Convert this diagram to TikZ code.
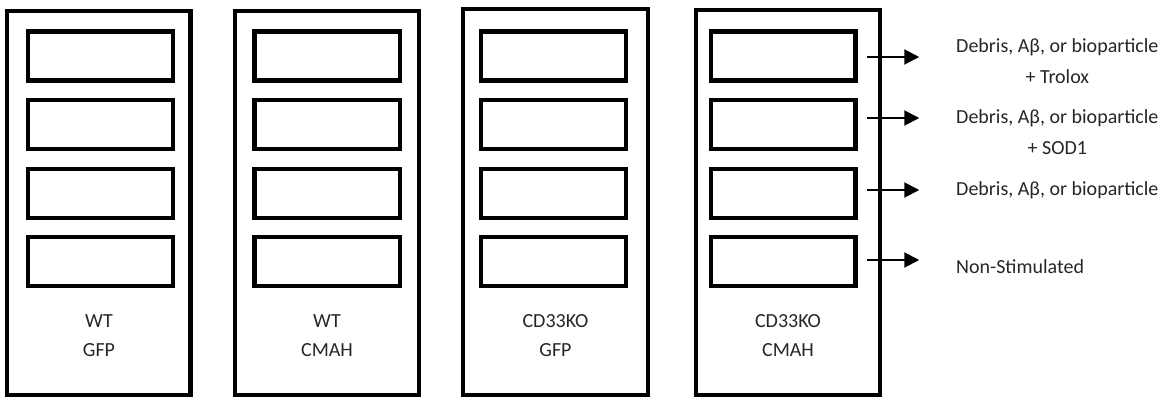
\documentclass[tikz,border=0pt]{standalone}
\usepackage{fontspec}
\setmainfont{Carlito}
\usetikzlibrary{arrows.meta}

\begin{document}
\begin{tikzpicture}[x=1pt,y=-1pt,
  column/.style={draw, line width=4.5pt, inner sep=0pt, outer sep=0pt},
  slot/.style={draw, line width=4.5pt, inner sep=0pt, outer sep=0pt,
               minimum height=49pt},
  txt/.style={text=black!85, font=\fontsize{20}{31}\selectfont, inner sep=0pt},
  arr/.style={line width=2pt, -{Triangle[length=15pt,width=15pt]}}
]
\useasboundingbox (0,0) rectangle (1165,397);

% four culture columns: outer frame
\node[column, minimum width=183.5pt, minimum height=384pt] (c1) at (98.75,203) {};
\node[column, minimum width=184pt,   minimum height=384pt] (c2) at (327,203) {};
\node[column, minimum width=185pt,   minimum height=386pt] (c3) at (555.5,202) {};
\node[column, minimum width=184pt,   minimum height=385pt] (c4) at (788,202.5) {};

% four wells per column
\foreach \c/\x/\w in {1/100.5/145, 2/327/145.5, 3/553.5/145, 4/783/144.5}{
  \foreach \r/\y in {1/56, 2/124.5, 3/193.5, 4/261.5}{
    \node[slot, minimum width=\w pt] (b\c\r) at (\x,\y) {};
  }
}

% column captions
\node[txt] (t1a) at (99,321) {WT};
\node[txt] (t1b) at (99,350) {GFP};
\node[txt] (t2a) at (327,321) {WT};
\node[txt] (t2b) at (327,350) {CMAH};
\node[txt] (t3a) at (555.5,321) {CD33KO};
\node[txt] (t3b) at (555.5,350) {GFP};
\node[txt] (t4a) at (788,321) {CD33KO};
\node[txt] (t4b) at (788,350) {CMAH};

% treatment labels
\node[txt, align=center, anchor=west] (l1) at (956,61) {Debris, Aβ, or bioparticle\\+ Trolox};
\node[txt, align=center, anchor=west] (l2) at (956,132) {Debris, Aβ, or bioparticle\\+ SOD1};
\node[txt, anchor=west] (l3) at (956,190) {Debris, Aβ, or bioparticle};
\node[txt, anchor=west] (l4) at (956,267) {Non-Stimulated};

% treatment arrows
\draw[arr] ([shift={(12pt,-1pt)}]b41.east) -- ([shift={(64pt,-1pt)}]b41.east);
\draw[arr] ([shift={(12pt,6.5pt)}]b42.east) -- ([shift={(64pt,6.5pt)}]b42.east);
\draw[arr] ([shift={(12pt,3.5pt)}]b43.east) -- ([shift={(64pt,3.5pt)}]b43.east);
\draw[arr] ([shift={(12pt,1.5pt)}]b44.east) -- ([shift={(64pt,1.5pt)}]b44.east);
\end{tikzpicture}
\end{document}
